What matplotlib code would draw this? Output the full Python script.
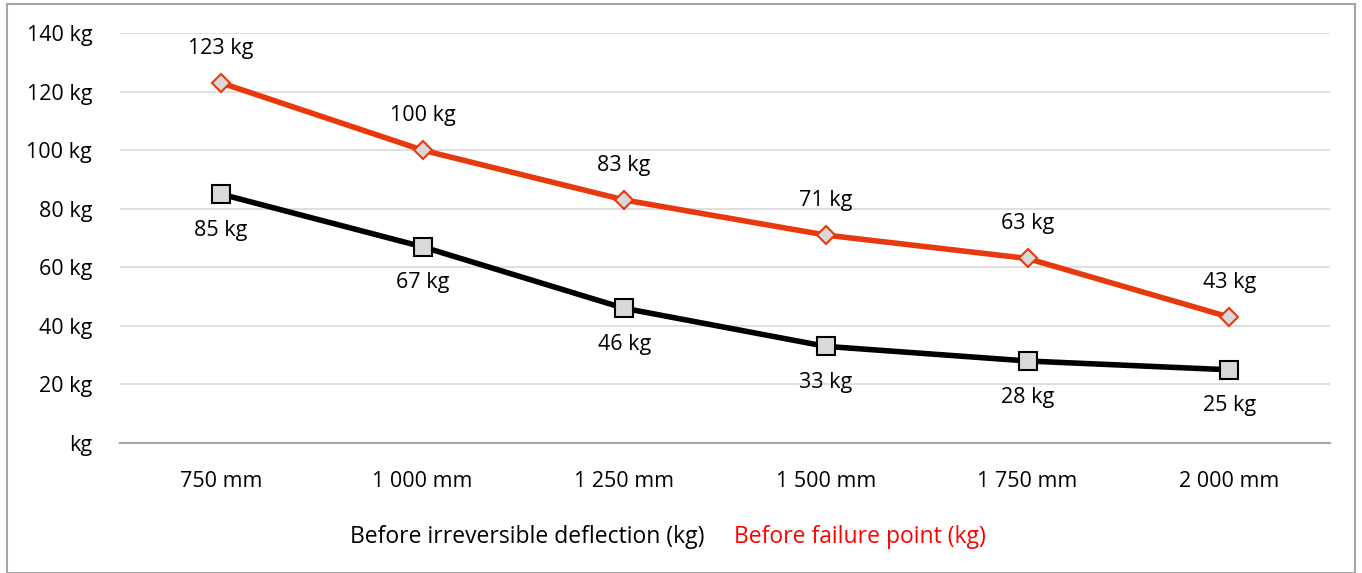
import matplotlib
matplotlib.use('Agg')
import matplotlib.pyplot as plt
from matplotlib.patches import Rectangle

# Datos de la gráfica
categorias = ['750 mm', '1 000 mm', '1 250 mm', '1 500 mm', '1 750 mm', '2 000 mm']
deflexion = [85, 67, 46, 33, 28, 25]
falla = [123, 100, 83, 71, 63, 43]
marcas_y = [0, 20, 40, 60, 80, 100, 120, 140]
etiquetas_y = ['kg', '20 kg', '40 kg', '60 kg', '80 kg', '100 kg', '120 kg', '140 kg']
nombres = ['Before irreversible deflection (kg)', 'Before failure point (kg)']

plt.rcParams['font.family'] = ['Open Sans', 'DejaVu Sans']
tam = 15.5

fig = plt.figure(figsize=(13.62, 5.73), dpi=100)
ax = fig.add_axes([120 / 1362, 1 - 443 / 573, 1210 / 1362, 410 / 573])

x = list(range(len(categorias)))

# Líneas
l1, = ax.plot(x, deflexion, color='black', lw=4, marker='s', ms=13,
              mfc='#D9D9D9', mec='black', mew=1.5, zorder=3)
l2, = ax.plot(x, falla, color='#E8380D', lw=4, marker='D', ms=9.5,
              mfc='#D9D9D9', mec='#E8380D', mew=1.5, zorder=3)

# Etiquetas de datos
for xi, v in zip(x, deflexion):
    ax.annotate(f'{v} kg', (xi, v), xytext=(0, -26), textcoords='offset points',
                ha='center', va='center', fontsize=tam, color='black')
for xi, v in zip(x, falla):
    ax.annotate(f'{v} kg', (xi, v), xytext=(0, 25), textcoords='offset points',
                ha='center', va='center', fontsize=tam, color='black')

ax.set_xlim(-0.5, len(categorias) - 0.5)
ax.set_ylim(0, 140)
ax.set_yticks(marcas_y)
ax.set_yticklabels(etiquetas_y)
ax.set_xticks(x)
ax.set_xticklabels(categorias)
ax.tick_params(axis='both', length=0, labelsize=tam, colors='black')
ax.tick_params(axis='y', pad=20)
ax.tick_params(axis='x', pad=20)

ax.grid(axis='y', color='#D9D9D9', lw=1.2)
ax.set_axisbelow(True)
for s in ['top', 'right', 'left']:
    ax.spines[s].set_visible(False)
ax.spines['bottom'].set_color('#A6A6A6')
ax.spines['bottom'].set_linewidth(1.5)

# Leyenda solo con texto coloreado
leg = fig.legend([l1, l2], nombres, loc='center', bbox_to_anchor=(668 / 1362, 1 - 537 / 573),
                 ncol=2, frameon=False, handlelength=0, handletextpad=0,
                 columnspacing=1.3, fontsize=16.5)
for h in leg.legend_handles:
    h.set_visible(False)
leg.get_texts()[1].set_color('#FF0000')

# Borde de la figura
fig.patches.append(Rectangle((7 / 1362, 0), 1348 / 1362, 1 - 4 / 573, transform=fig.transFigure,
                             fill=False, edgecolor='#A6A6A6', lw=1.5))

fig.savefig('out.png', dpi=100)
